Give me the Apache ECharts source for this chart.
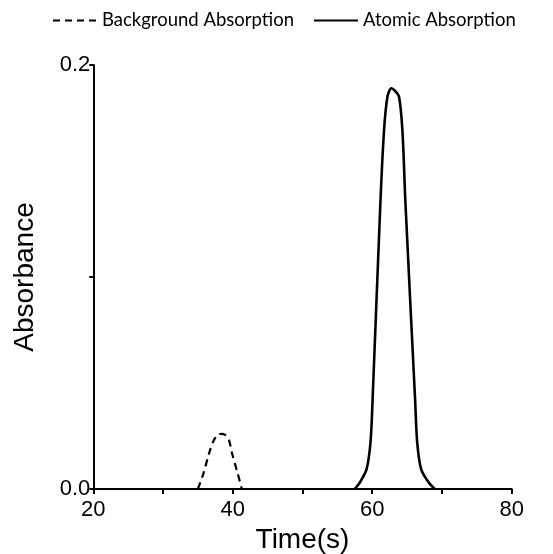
<!DOCTYPE html>
<html><head><meta charset="utf-8">
<script src="https://cdn.jsdelivr.net/npm/echarts@6/dist/echarts.min.js"></script>
<style>html,body{margin:0;padding:0;background:#fff}#c{width:553px;height:554px}</style>
</head><body><div id="c"></div>
<script>
const bgTime = [35.0, 35.8, 36.6, 37.3, 37.9, 38.4, 38.9, 39.45, 39.9, 40.7, 41.3];
const bgValue = [0, 0.0074, 0.0168, 0.0231, 0.0258, 0.026, 0.0255, 0.0231, 0.0168, 0.0074, 0];
const aaTime = [57.5, 58.3, 59.2, 59.75, 60.05, 61.17, 61.69, 62.18, 62.75, 63.2, 63.84, 64.33, 64.76, 66.15, 66.45, 67.0, 68.0, 68.95];
const aaValue = [0, 0.0035, 0.0095, 0.022, 0.042, 0.135, 0.169, 0.185, 0.189, 0.188, 0.185, 0.169, 0.135, 0.042, 0.022, 0.0095, 0.0035, 0];
const xLabels = [20, 40, 60, 80];
const yLabels = [0, 0.2];
const seriesNames = ['Background Absorption', 'Atomic Absorption'];

const chart = echarts.init(document.getElementById('c'));
const pairs = (xs, ys) => xs.map((x, i) => [x, ys[i]]);
chart.setOption({
  animation: false,
  backgroundColor: '#fff',
  legend: {
    left: 52, top: 11, padding: 0,
    itemWidth: 44, itemHeight: 10, itemGap: 19,
    itemStyle: {opacity: 0},
    textStyle: {fontFamily: 'Lato', fontSize: 18.5, color: '#000'},
    data: seriesNames
  },
  grid: {left: 93.3, right: 41.3, top: 65, bottom: 65, containLabel: false, outerBoundsMode: 'none'},
  xAxis: {
    type: 'value', min: 20, max: 80, interval: 10,
    name: 'Time(s)', nameLocation: 'middle', nameGap: 34,
    nameTextStyle: {fontFamily: 'Liberation Sans', fontSize: 28, color: '#000'},
    axisLine: {lineStyle: {color: '#000', width: 2}},
    axisTick: {length: 5, lineStyle: {color: '#000', width: 2}},
    axisLabel: {
      fontFamily: 'Liberation Sans', fontSize: 22, color: '#000', margin: 10,
      formatter: v => xLabels.includes(v) ? String(v) : ''
    },
    splitLine: {show: false}
  },
  yAxis: {
    type: 'value', min: 0, max: 0.2, interval: 0.1,
    name: 'Absorbance', nameLocation: 'middle', nameGap: 54, nameRotate: 90,
    nameTextStyle: {fontFamily: 'Liberation Sans', fontSize: 28, color: '#000'},
    axisLine: {lineStyle: {color: '#000', width: 2}},
    axisTick: {length: 4, lineStyle: {color: '#000', width: 2}},
    axisLabel: {
      fontFamily: 'Liberation Sans', fontSize: 22, color: '#000', margin: 3,
      formatter: v => yLabels.some(y => Math.abs(y - v) < 1e-9) ? v.toFixed(1) : ''
    },
    splitLine: {show: false}
  },
  series: [
    {
      name: seriesNames[0], type: 'line', smooth: 0.3, symbol: 'none',
      lineStyle: {color: '#000', width: 2.2, type: [7, 5]},
      itemStyle: {color: '#000'},
      data: pairs(bgTime, bgValue)
    },
    {
      name: seriesNames[1], type: 'line', smooth: 0.3, symbol: 'none',
      lineStyle: {color: '#000', width: 2.6},
      itemStyle: {color: '#000'},
      data: pairs(aaTime, aaValue)
    }
  ]
});
</script></body></html>
